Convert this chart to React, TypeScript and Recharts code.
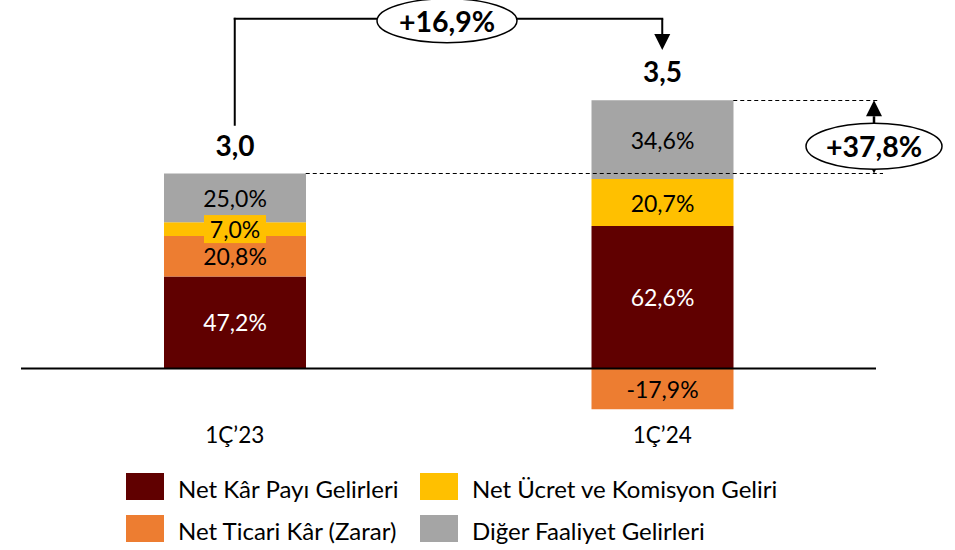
import React from "react";
import { BarChart, Bar, XAxis, YAxis, ReferenceLine, ReferenceDot, LabelList } from "recharts";

// ---------------- data ----------------
const categories = ["1Ç’23", "1Ç’24"];
const totals = [3.0, 3.5];
const totalLabels = ["3,0", "3,5"];
const netKarPayiShare = [47.2, 62.6];
const netTicariShare = [20.8, -17.9];
const netUcretShare = [7.0, 20.7];
const digerShare = [25.0, 34.6];
const totalGrowthLabel = "+16,9%";
const otherGrowthLabel = "+37,8%";

const seriesNames = [
  "Net Kâr Payı Gelirleri",
  "Net Ticari Kâr (Zarar)",
  "Net Ücret ve Komisyon Geliri",
  "Diğer Faaliyet Gelirleri",
];
const seriesColors = ["#600000", "#ED7D31", "#FFC000", "#A5A5A5"];
const legendOrder = [0, 2, 1, 3];

// ---------------- layout constants ----------------
const W = 955;
const H = 550;
const M = { top: 11, right: 79, bottom: 86.5, left: 21 };
const PLOT_W = W - M.left - M.right;
const BAND = PLOT_W / categories.length;
const BAR_SIZE = 142;
const FONT = "Lato, 'Liberation Sans', sans-serif";

const shareKeys = ["nkpShare", "ticariShare", "ucretShare", "digerShare"];
const valueKeys = ["nkp", "ticari", "ucret", "diger"];
const shareArrays = [netKarPayiShare, netTicariShare, netUcretShare, digerShare];

const data = categories.map((cat, i) => {
  const row: any = { cat, totalLabel: totalLabels[i] };
  shareArrays.forEach((arr, k) => {
    row[shareKeys[k]] = arr[i];
    row[valueKeys[k]] = (totals[i] * arr[i]) / 100;
  });
  return row;
});

const positiveTop = data.map((row) =>
  valueKeys.reduce((s, k) => s + (row[k] > 0 ? row[k] : 0), 0)
);

// annotation levels (in value units)
const BRACKET_START = 3.75;
const BRACKET_TOP = 5.38;
const BRACKET_ARROW_TIP = 4.9;
const TOP_ELLIPSE_Y = 5.35;
const RIGHT_ELLIPSE_Y = 3.42;

const fmt = (v: number) => v.toFixed(1).replace(".", ",") + "%";
const num = (v: any) => (v == null ? 0 : Number(v));

const segLabel = (color: string, bg?: string) => (props: any) => {
  const vb = props.viewBox || props;
  const x = num(vb.x ?? props.x);
  const y = num(vb.y ?? props.y);
  const w = num(vb.width ?? props.width);
  const h = num(vb.height ?? props.height);
  const cx = x + w / 2;
  const cy = y + h / 2;
  return (
    <g>
      {bg ? <rect x={cx - 31} y={cy - 14} width={62} height={28} fill={bg} /> : null}
      <text
        x={cx}
        y={cy}
        textAnchor="middle"
        dominantBaseline="central"
        fill={color}
        fontSize={23}
        fontFamily={FONT}
      >
        {fmt(Number(props.value))}
      </text>
    </g>
  );
};

const totalLabel = (props: any) => {
  const vb = props.viewBox || props;
  const x = num(vb.x ?? props.x);
  const y = num(vb.y ?? props.y);
  const w = num(vb.width ?? props.width);
  const h = num(vb.height ?? props.height);
  const top = Math.min(y, y + h);
  return (
    <text
      x={x + w / 2}
      y={top - 18}
      textAnchor="middle"
      fill="#000"
      fontSize={28}
      fontWeight="bold"
      fontFamily={FONT}
    >
      {props.value}
    </text>
  );
};

// line shape; optional start/end adjustments in px
const plainLine =
  (width: number, dash?: string, startDx = 0, endDx = 0) =>
  (p: any) => {
    const crisp = (v: number) => (dash ? Math.floor(v) + 0.5 : v);
    return (
      <line
        x1={num(p.x1) + startDx}
        y1={crisp(num(p.y1))}
        x2={num(p.x2) + endDx}
        y2={crisp(num(p.y2))}
        stroke="#000"
        strokeWidth={width}
        strokeDasharray={dash}
        strokeLinecap={dash ? "butt" : "square"}
      />
    );
  };

const arrowLine = (width: number, both: boolean, dx = 0) => (p: any) => {
  const x1 = num(p.x1) + dx;
  const x2 = num(p.x2) + dx;
  const y1 = num(p.y1);
  const y2 = num(p.y2);
  const dir = y2 > y1 ? 1 : -1;
  const L = 16;
  const HW = 8;
  const lineStart = both ? y1 + dir * L : y1;
  return (
    <g>
      <line x1={x1} y1={lineStart} x2={x2} y2={y2 - dir * L} stroke="#000" strokeWidth={width} />
      <polygon
        points={`${x2 - HW},${y2 - dir * L} ${x2 + HW},${y2 - dir * L} ${x2},${y2}`}
        fill="#000"
      />
      {both ? (
        <polygon
          points={`${x1 - HW},${y1 + dir * L} ${x1 + HW},${y1 + dir * L} ${x1},${y1}`}
          fill="#000"
        />
      ) : null}
    </g>
  );
};

const ellipseShape = (text: string, rx: number, ry: number, dx = 0) => (p: any) => {
  const cx = num(p.cx) + dx;
  const cy = num(p.cy);
  return (
    <g>
      <ellipse cx={cx} cy={cy} rx={rx} ry={ry} fill="#fff" stroke="#000" strokeWidth={1.5} />
      <text
        x={cx}
        y={cy}
        textAnchor="middle"
        dominantBaseline="central"
        fontSize={28.5}
        fontWeight="bold"
        fontFamily={FONT}
        fill="#000"
      >
        {text}
      </text>
    </g>
  );
};

const CatTick = (p: any) => (
  <text x={p.x} y={p.y} textAnchor="middle" fill="#000" fontSize={22.5} fontFamily={FONT}>
    {p.payload.value}
  </text>
);

export default function App() {
  const c0 = categories[0];
  const c1 = categories[1];
  return (
    <div style={{ position: "absolute", left: 0, top: 0, width: W, height: H, background: "#fff" }}>
      <BarChart
        width={W}
        height={H}
        data={data}
        margin={M}
        stackOffset="sign"
        barSize={BAR_SIZE}
      >
        <XAxis
          dataKey="cat"
          height={30}
          axisLine={false}
          tickLine={false}
          tickSize={0}
          tickMargin={9}
          interval={0}
          tick={<CatTick />}
        />
        <YAxis type="number" domain={[-1, 5.5]} hide allowDataOverflow />

        {valueKeys.map((k, idx) => (
          <Bar key={k} dataKey={k} stackId="a" fill={seriesColors[idx]} isAnimationActive={false}>
            <LabelList
              dataKey={shareKeys[idx]}
              content={segLabel(idx === 0 ? "#fff" : "#000", idx === 2 ? seriesColors[2] : undefined)}
            />
            {idx === 3 ? <LabelList dataKey="totalLabel" content={totalLabel} /> : null}
          </Bar>
        ))}

        <ReferenceLine y={0} stroke="#000" strokeWidth={2} ifOverflow="visible" />

        {/* dashed guide lines at the bar tops */}
        <ReferenceLine
          y={positiveTop[0]}
          ifOverflow="visible"
          shape={plainLine(1, "4 3", BAND * 0.5 + BAR_SIZE / 2, 7)}
        />
        <ReferenceLine
          y={positiveTop[1]}
          ifOverflow="visible"
          shape={plainLine(1, "4 3", BAND * 1.5 + BAR_SIZE / 2, 4)}
        />

        {/* bracket between totals */}
        <ReferenceLine
          segment={[
            { x: c0, y: BRACKET_START },
            { x: c0, y: BRACKET_TOP },
          ]}
          ifOverflow="visible"
          shape={plainLine(2)}
        />
        <ReferenceLine
          segment={[
            { x: c0, y: BRACKET_TOP },
            { x: c1, y: BRACKET_TOP },
          ]}
          ifOverflow="visible"
          shape={plainLine(2)}
        />
        <ReferenceLine
          segment={[
            { x: c1, y: BRACKET_TOP },
            { x: c1, y: BRACKET_ARROW_TIP },
          ]}
          ifOverflow="visible"
          shape={arrowLine(2, false)}
        />

        {/* double arrow on the right */}
        <ReferenceLine
          segment={[
            { x: c1, y: positiveTop[0] },
            { x: c1, y: positiveTop[1] },
          ]}
          ifOverflow="visible"
          shape={arrowLine(2.5, true, BAND / 2 - 2)}
        />

        <ReferenceDot
          x={c0}
          y={TOP_ELLIPSE_Y}
          ifOverflow="visible"
          shape={ellipseShape(totalGrowthLabel, 70, 22, BAND / 2 - 1.5)}
        />
        <ReferenceDot
          x={c1}
          y={RIGHT_ELLIPSE_Y}
          ifOverflow="visible"
          shape={ellipseShape(otherGrowthLabel, 68, 23, BAND / 2 - 2)}
        />
      </BarChart>

      {legendOrder.map((s, i) => {
        const col = i % 2;
        const row = Math.floor(i / 2);
        const left = 126 + col * 294;
        const top = 473 + row * 42;
        return (
          <React.Fragment key={s}>
            <div
              style={{
                position: "absolute",
                left,
                top,
                width: 38,
                height: 27,
                background: seriesColors[s],
              }}
            />
            <div
              style={{
                position: "absolute",
                left: left + 52,
                top: top + 2,
                height: 27,
                lineHeight: "27px",
                fontSize: 24,
                fontFamily: FONT,
                color: "#000",
                whiteSpace: "nowrap",
              }}
            >
              {seriesNames[s]}
            </div>
          </React.Fragment>
        );
      })}
    </div>
  );
}
